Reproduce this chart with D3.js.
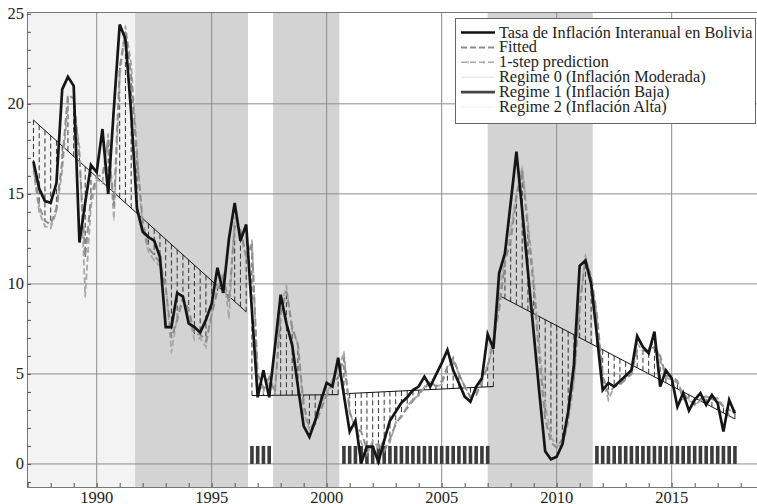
<!DOCTYPE html>
<html><head><meta charset="utf-8">
<script src="https://cdn.jsdelivr.net/npm/d3@7"></script>
<style>body{margin:0;background:#fff} svg{display:block} text{font-family:"Liberation Serif","Times New Roman",serif;}</style>
</head><body><svg id="c" width="757" height="504"></svg>
<script>
// quarterly data, first observation 1987Q2
const startYear = 1987.25;
const actual = [
 16.8, 15.3, 14.6,
 14.5, 15.6, 20.8, 21.5,
 21.0, 12.3, 14.5, 16.6,
 16.2, 18.6, 15.0, 19.8,
 24.4, 23.6, 19.5, 14.2,
 12.9, 12.6, 12.4, 11.5,
 7.6, 7.6, 9.5, 9.3,
 7.8, 7.6, 7.3, 8.0,
 8.9, 10.9, 9.5, 12.5,
 14.5, 12.4, 13.3, 8.5,
 3.7, 5.2, 3.7, 6.5,
 9.4, 7.8, 6.6, 4.3,
 2.1, 1.5, 2.4, 3.5,
 4.5, 4.3, 5.9, 3.8,
 1.8, 2.4, 0.05, 0.96,
 0.96, 0.13, 1.3, 2.4,
 2.9, 3.4, 3.7, 4.1,
 4.3, 4.85, 4.3, 4.95,
 5.6, 6.33, 5.2, 4.5,
 3.74, 3.46, 4.3, 4.76,
 7.2, 6.4, 10.6, 11.7,
 14.5, 17.35, 14.1, 10.7,
 7.3, 3.9, 0.7, 0.26,
 0.4, 1.1, 2.9, 5.5,
 11.0, 11.3, 10.0, 7.1,
 4.1, 4.5, 4.3, 4.6,
 4.9, 5.2, 7.1, 6.5,
 6.15, 7.35, 4.3, 5.2,
 4.76, 3.18, 3.93, 2.96,
 3.56, 3.93, 3.28, 3.83,
 3.37, 1.8, 3.56, 2.8
];
const fitted = [
 16.6, 14.3, 13.5,
 13.3, 14.2, 16.8, 20.5,
 20.3, 17.0, 11.5, 14.8,
 16.0, 16.0, 18.0, 14.3,
 22.0, 24.0, 21.5, 17.0,
 13.5, 12.0, 11.6, 11.2,
 9.8, 7.0, 8.0, 9.2,
 8.6, 7.2, 7.2, 6.8,
 8.3, 9.6, 10.4, 9.0,
 13.2, 13.0, 11.6, 12.1,
 5.0, 4.2, 4.8, 4.0,
 8.3, 9.6, 7.6, 6.6,
 3.3, 2.0, 2.2, 3.0,
 3.8, 4.5, 4.8, 5.9,
 2.9, 2.0, 1.8, 0.8,
 1.0, 1.1, 0.7, 1.4,
 2.2, 2.7, 3.1, 3.5,
 3.9, 4.2, 4.6, 4.3,
 4.6, 5.4, 5.9, 5.0,
 4.3, 3.7, 3.8, 4.6,
 5.4, 6.9, 8.6, 11.2,
 12.4, 14.8, 16.3, 13.0,
 9.8, 5.8, 2.5, 1.2,
 0.9, 1.4, 2.9, 4.8,
 8.8, 11.4, 10.4, 8.3,
 4.9, 3.9, 4.3, 4.4,
 4.7, 5.0, 6.3, 6.3,
 6.3, 6.5, 6.0, 4.9,
 4.9, 4.6, 3.6, 3.7,
 3.3, 3.6, 3.8, 3.6,
 3.5, 3.2, 2.7, 3.0
];
const oneStep = [
 16.3, 14.0, 13.2,
 13.1, 14.0, 16.3, 20.0,
 20.0, 17.6, 9.3, 14.3,
 15.8, 15.6, 18.3, 13.6,
 21.5, 24.3, 22.2, 17.5,
 13.0, 11.8, 11.3, 11.0,
 10.0, 6.2, 8.2, 9.3,
 8.2, 6.9, 7.0, 6.5,
 8.4, 9.9, 10.6, 8.1,
 13.7, 12.8, 11.4, 12.4,
 4.5, 4.0, 4.9, 3.9,
 8.7, 9.9, 7.4, 6.7,
 2.8, 1.9, 2.4, 3.3,
 3.9, 4.7, 5.2, 6.2,
 2.8, 2.1, 1.2, 0.5,
 1.3, 0.9, 1.3, 1.2,
 2.3, 2.6, 3.2, 3.6,
 3.8, 4.3, 4.4, 4.3,
 4.4, 5.3, 5.8, 5.0,
 4.3, 3.74, 4.0, 4.85,
 5.5, 6.5, 9.3, 11.5,
 13.0, 15.0, 16.5, 13.5,
 10.4, 6.5, 3.4, 1.5,
 1.05, 0.96, 2.26, 4.5,
 8.7, 11.6, 10.2, 8.2,
 4.7, 3.56, 4.3, 4.5,
 4.85, 5.0, 6.7, 6.24,
 6.4, 6.8, 5.8, 4.8,
 4.67, 4.5, 3.93, 3.56,
 3.28, 3.5, 3.74, 3.7,
 3.65, 3.18, 3.0, 2.9
];
// regime mean (trend) segments: [t0, v0, t1, v1]
const trendSegments = [
 [1987.25, 19.1, 1996.5, 8.45],
 [1996.75, 3.8, 2000.5, 3.85],
 [2000.75, 3.9, 2007.25, 4.3],
 [2007.5, 9.35, 2017.75, 2.5]
];
const lightSpans = [[1986.97, 1991.67]];
const darkSpans = [[1991.67, 1996.58], [1997.67, 2000.55], [2007.0, 2011.57]];
const barSpans = [[1996.75, 1997.5], [2000.75, 2007.0], [2011.75, 2017.75]];
const xTicks = [1990, 1995, 2000, 2005, 2010, 2015];
const yTicks = [0, 5, 10, 15, 20, 25];
const legendLabels = ["Tasa de Inflación Interanual en Bolivia", "Fitted", "1-step prediction",
  "Regime 0 (Inflación Moderada)", "Regime 1 (Inflación Baja)", "Regime 2 (Inflación Alta)"];

const FONT = "Liberation Serif, Times New Roman, serif";
const svg = d3.select("#c");
const L = 27, R = 757, T = 12, B = 487;
const x = d3.scaleLinear().domain([1986.97, 2018.71]).range([L, R]);
const y = d3.scaleLinear().domain([-1.28, 25.1]).range([B, T]);
const dates = actual.map((_, i) => startYear + i * 0.25);

svg.append("rect").attr("width", 757).attr("height", 504).attr("fill", "#fff");
const plot = svg.append("g");
plot.selectAll(".lt").data(lightSpans).join("rect")
  .attr("x", d => x(d[0])).attr("width", d => x(d[1]) - x(d[0]))
  .attr("y", T).attr("height", B - T).attr("fill", "#f3f3f3");
plot.selectAll(".dk").data(darkSpans).join("rect")
  .attr("x", d => x(d[0])).attr("width", d => x(d[1]) - x(d[0]))
  .attr("y", T).attr("height", B - T).attr("fill", "#d3d3d3");

// grid
plot.selectAll(".gx").data(xTicks).join("line")
  .attr("x1", d => x(d)).attr("x2", d => x(d)).attr("y1", T).attr("y2", B)
  .attr("stroke", "#8c8c8c").attr("stroke-width", 1);
plot.selectAll(".gy").data(yTicks.filter(d => d < 25)).join("line")
  .attr("x1", L).attr("x2", R).attr("y1", d => y(d)).attr("y2", d => y(d))
  .attr("stroke", "#8c8c8c").attr("stroke-width", 1);

// regime bars
const barDates = [];
barSpans.forEach(s => { for (let t = s[0]; t <= s[1] + 1e-6; t += 0.25) barDates.push(t); });
plot.selectAll(".bar").data(barDates).join("rect")
  .attr("x", d => x(d) - 1.8).attr("width", 3.6)
  .attr("y", y(1)).attr("height", y(0) - y(1)).attr("fill", "#3c3c3c");

// trend
function trendAt(t) {
  for (const s of trendSegments) if (t >= s[0] - 1e-6 && t <= s[2] + 1e-6)
    return d3.scaleLinear().domain([s[0], s[2]]).range([s[1], s[3]])(t);
  return null;
}
const hatch = dates.map((t, i) => ({t, a: trendAt(t), b: fitted[i]})).filter(d => d.a !== null);
plot.selectAll(".h").data(hatch).join("line")
  .attr("x1", d => x(d.t)).attr("x2", d => x(d.t))
  .attr("y1", d => y(d.a)).attr("y2", d => y(d.b))
  .attr("stroke", "#333").attr("stroke-width", 1).attr("stroke-dasharray", "5,3");
plot.selectAll(".tr").data(trendSegments).join("line")
  .attr("x1", d => x(d[0])).attr("y1", d => y(d[1])).attr("x2", d => x(d[2])).attr("y2", d => y(d[3]))
  .attr("stroke", "#111").attr("stroke-width", 1);

const line = d3.line().x((d, i) => x(dates[i])).y(d => y(d));
plot.append("path").datum(oneStep).attr("d", line).attr("fill", "none")
  .attr("stroke", "#a8a8a8").attr("stroke-width", 1.8).attr("stroke-dasharray", "6,3");
plot.selectAll(".os").data(oneStep).join("line")
  .attr("x1", (d, i) => x(dates[i])).attr("x2", (d, i) => x(dates[i]))
  .attr("y1", d => y(d) - 1.5).attr("y2", d => y(d) + 1.5)
  .attr("stroke", "#a8a8a8").attr("stroke-width", 1);
plot.append("path").datum(fitted).attr("d", line).attr("fill", "none")
  .attr("stroke", "#8e8e8e").attr("stroke-width", 2).attr("stroke-dasharray", "7,4");
plot.append("path").datum(actual).attr("d", line).attr("fill", "none")
  .attr("stroke", "#151515").attr("stroke-width", 2.7).attr("stroke-linejoin", "miter");

// frame
svg.append("line").attr("x1", L).attr("x2", R).attr("y1", T + 0.5).attr("y2", T + 0.5).attr("stroke", "#777");
svg.append("line").attr("x1", L + 0.5).attr("x2", L + 0.5).attr("y1", T).attr("y2", B).attr("stroke", "#777");
svg.append("line").attr("x1", L).attr("x2", R).attr("y1", B + 0.5).attr("y2", B + 0.5).attr("stroke", "#777");

// axes
const xAxis = d3.axisBottom(x).tickValues(d3.range(1987, 2019)).tickSize(-4).tickFormat("");
const gx = svg.append("g").attr("transform", `translate(0,${B})`).call(xAxis);
gx.select(".domain").remove();
gx.selectAll("line").attr("stroke", "#555");
svg.selectAll(".xl").data(xTicks).join("text").attr("x", d => x(d)).attr("y", 503)
  .attr("text-anchor", "middle").attr("font-family", FONT).attr("font-size", 16.5).attr("fill", "#222").text(d => d);
const yAxis = d3.axisLeft(y).tickValues(d3.range(-1, 26)).tickSize(-4).tickFormat("");
const gy = svg.append("g").attr("transform", `translate(${L},0)`).call(yAxis);
gy.select(".domain").remove();
gy.selectAll("line").attr("stroke", "#555");
svg.selectAll(".yl").data(yTicks).join("text").attr("x", 24).attr("y", d => y(d) + 5.5)
  .attr("text-anchor", "end").attr("font-family", FONT).attr("font-size", 16.5).attr("fill", "#222").text(d => d);

// legend
const lg = svg.append("g");
lg.append("rect").attr("x", 455.5).attr("y", 18.5).attr("width", 300).attr("height", 105)
  .attr("fill", "#fff").attr("stroke", "#666");
const sw = [
  {c: "#111", w: 2.6, d: null},
  {c: "#8e8e8e", w: 2, d: "6,3"},
  {c: "#a8a8a8", w: 1.5, d: "6,3"},
  {c: "#e0e0e0", w: 1, d: null},
  {c: "#444", w: 2.8, d: null},
  {c: "#ececec", w: 1, d: null}
];
legendLabels.forEach((lab, i) => {
  const yy = 37.5 + i * 14.9;
  lg.append("line").attr("x1", 461).attr("x2", 495).attr("y1", yy - 5).attr("y2", yy - 5)
    .attr("stroke", sw[i].c).attr("stroke-width", sw[i].w).attr("stroke-dasharray", sw[i].d);
  if (i === 2) [468, 484].forEach(px => lg.append("line").attr("x1", px).attr("x2", px)
    .attr("y1", yy - 6.5).attr("y2", yy - 3.5).attr("stroke", "#a8a8a8"));
  lg.append("text").attr("x", 499).attr("y", yy).attr("font-family", FONT).attr("font-size", 16.3)
    .attr("fill", "#222").text(lab);
});
</script></body></html>
